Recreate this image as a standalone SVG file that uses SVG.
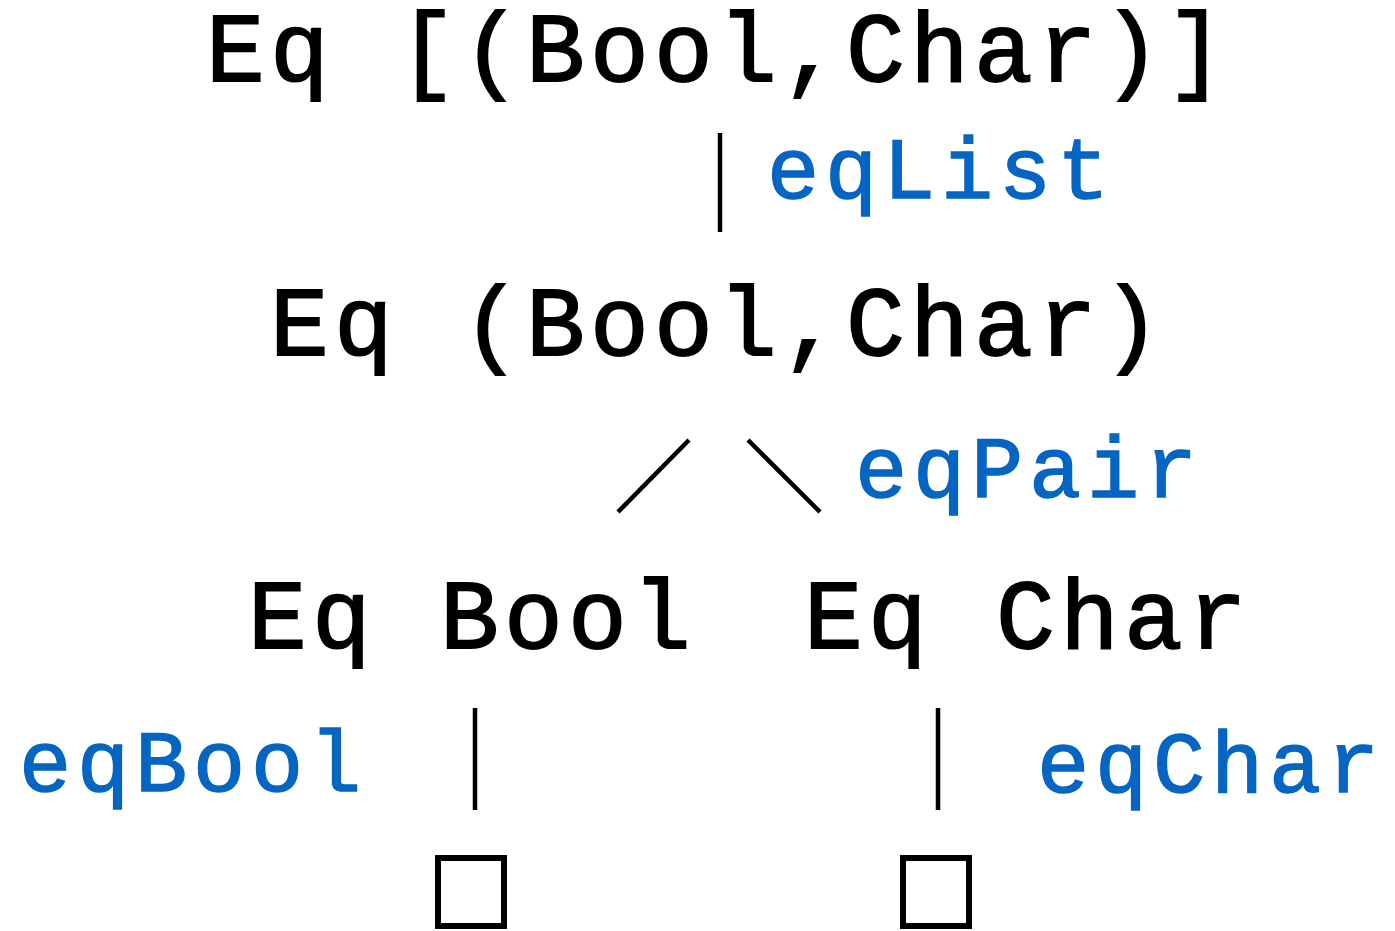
<svg xmlns="http://www.w3.org/2000/svg" width="1395" height="931" viewBox="0 0 1395 931">
  <style>
    .t { font-family: "Liberation Mono", "Courier New", monospace; font-size: 98px; letter-spacing: 5.2px; fill: #000; stroke: #000; stroke-width: 1.8px; }
    .d { font-family: "Liberation Mono", "Courier New", monospace; font-size: 87px; letter-spacing: 5.8px; fill: #0565c2; stroke: #0565c2; stroke-width: 1.5px; }
    .e { stroke: #000; stroke-width: 4.5; fill: none; }
    .leaf { stroke: #000; stroke-width: 6; fill: none; }
  </style>
  <rect width="1395" height="931" fill="#fff"/>

  <g id="eq-list-pair">
    <text class="t" x="206" y="81">Eq [(Bool,Char)]</text>
  </g>
  <g id="eq-pair">
    <text class="t" x="270" y="355">Eq (Bool,Char)</text>
  </g>
  <g id="eq-bool">
    <text class="t" x="248" y="648">Eq Bool</text>
  </g>
  <g id="eq-char">
    <text class="t" x="804" y="648">Eq Char</text>
  </g>
  <g id="done-bool">
    <rect class="leaf" x="438" y="858" width="66" height="68"/>
  </g>
  <g id="done-char">
    <rect class="leaf" x="903" y="858" width="66" height="68"/>
  </g>

  <g id="connectors">
    <line class="e" x1="720" y1="133" x2="720" y2="232"/>
    <line class="e" x1="689" y1="440" x2="618" y2="512"/>
    <line class="e" x1="748" y1="440" x2="820" y2="512"/>
    <line class="e" x1="475" y1="708" x2="475" y2="810"/>
    <line class="e" x1="938" y1="708" x2="938" y2="810"/>
  </g>

  <g id="labels">
    <text class="d" x="767" y="198">eqList</text>
    <text class="d" x="855" y="497">eqPair</text>
    <text class="d" x="19" y="791">eqBool</text>
    <text class="d" x="1037" y="792">eqChar</text>
  </g>
</svg>
